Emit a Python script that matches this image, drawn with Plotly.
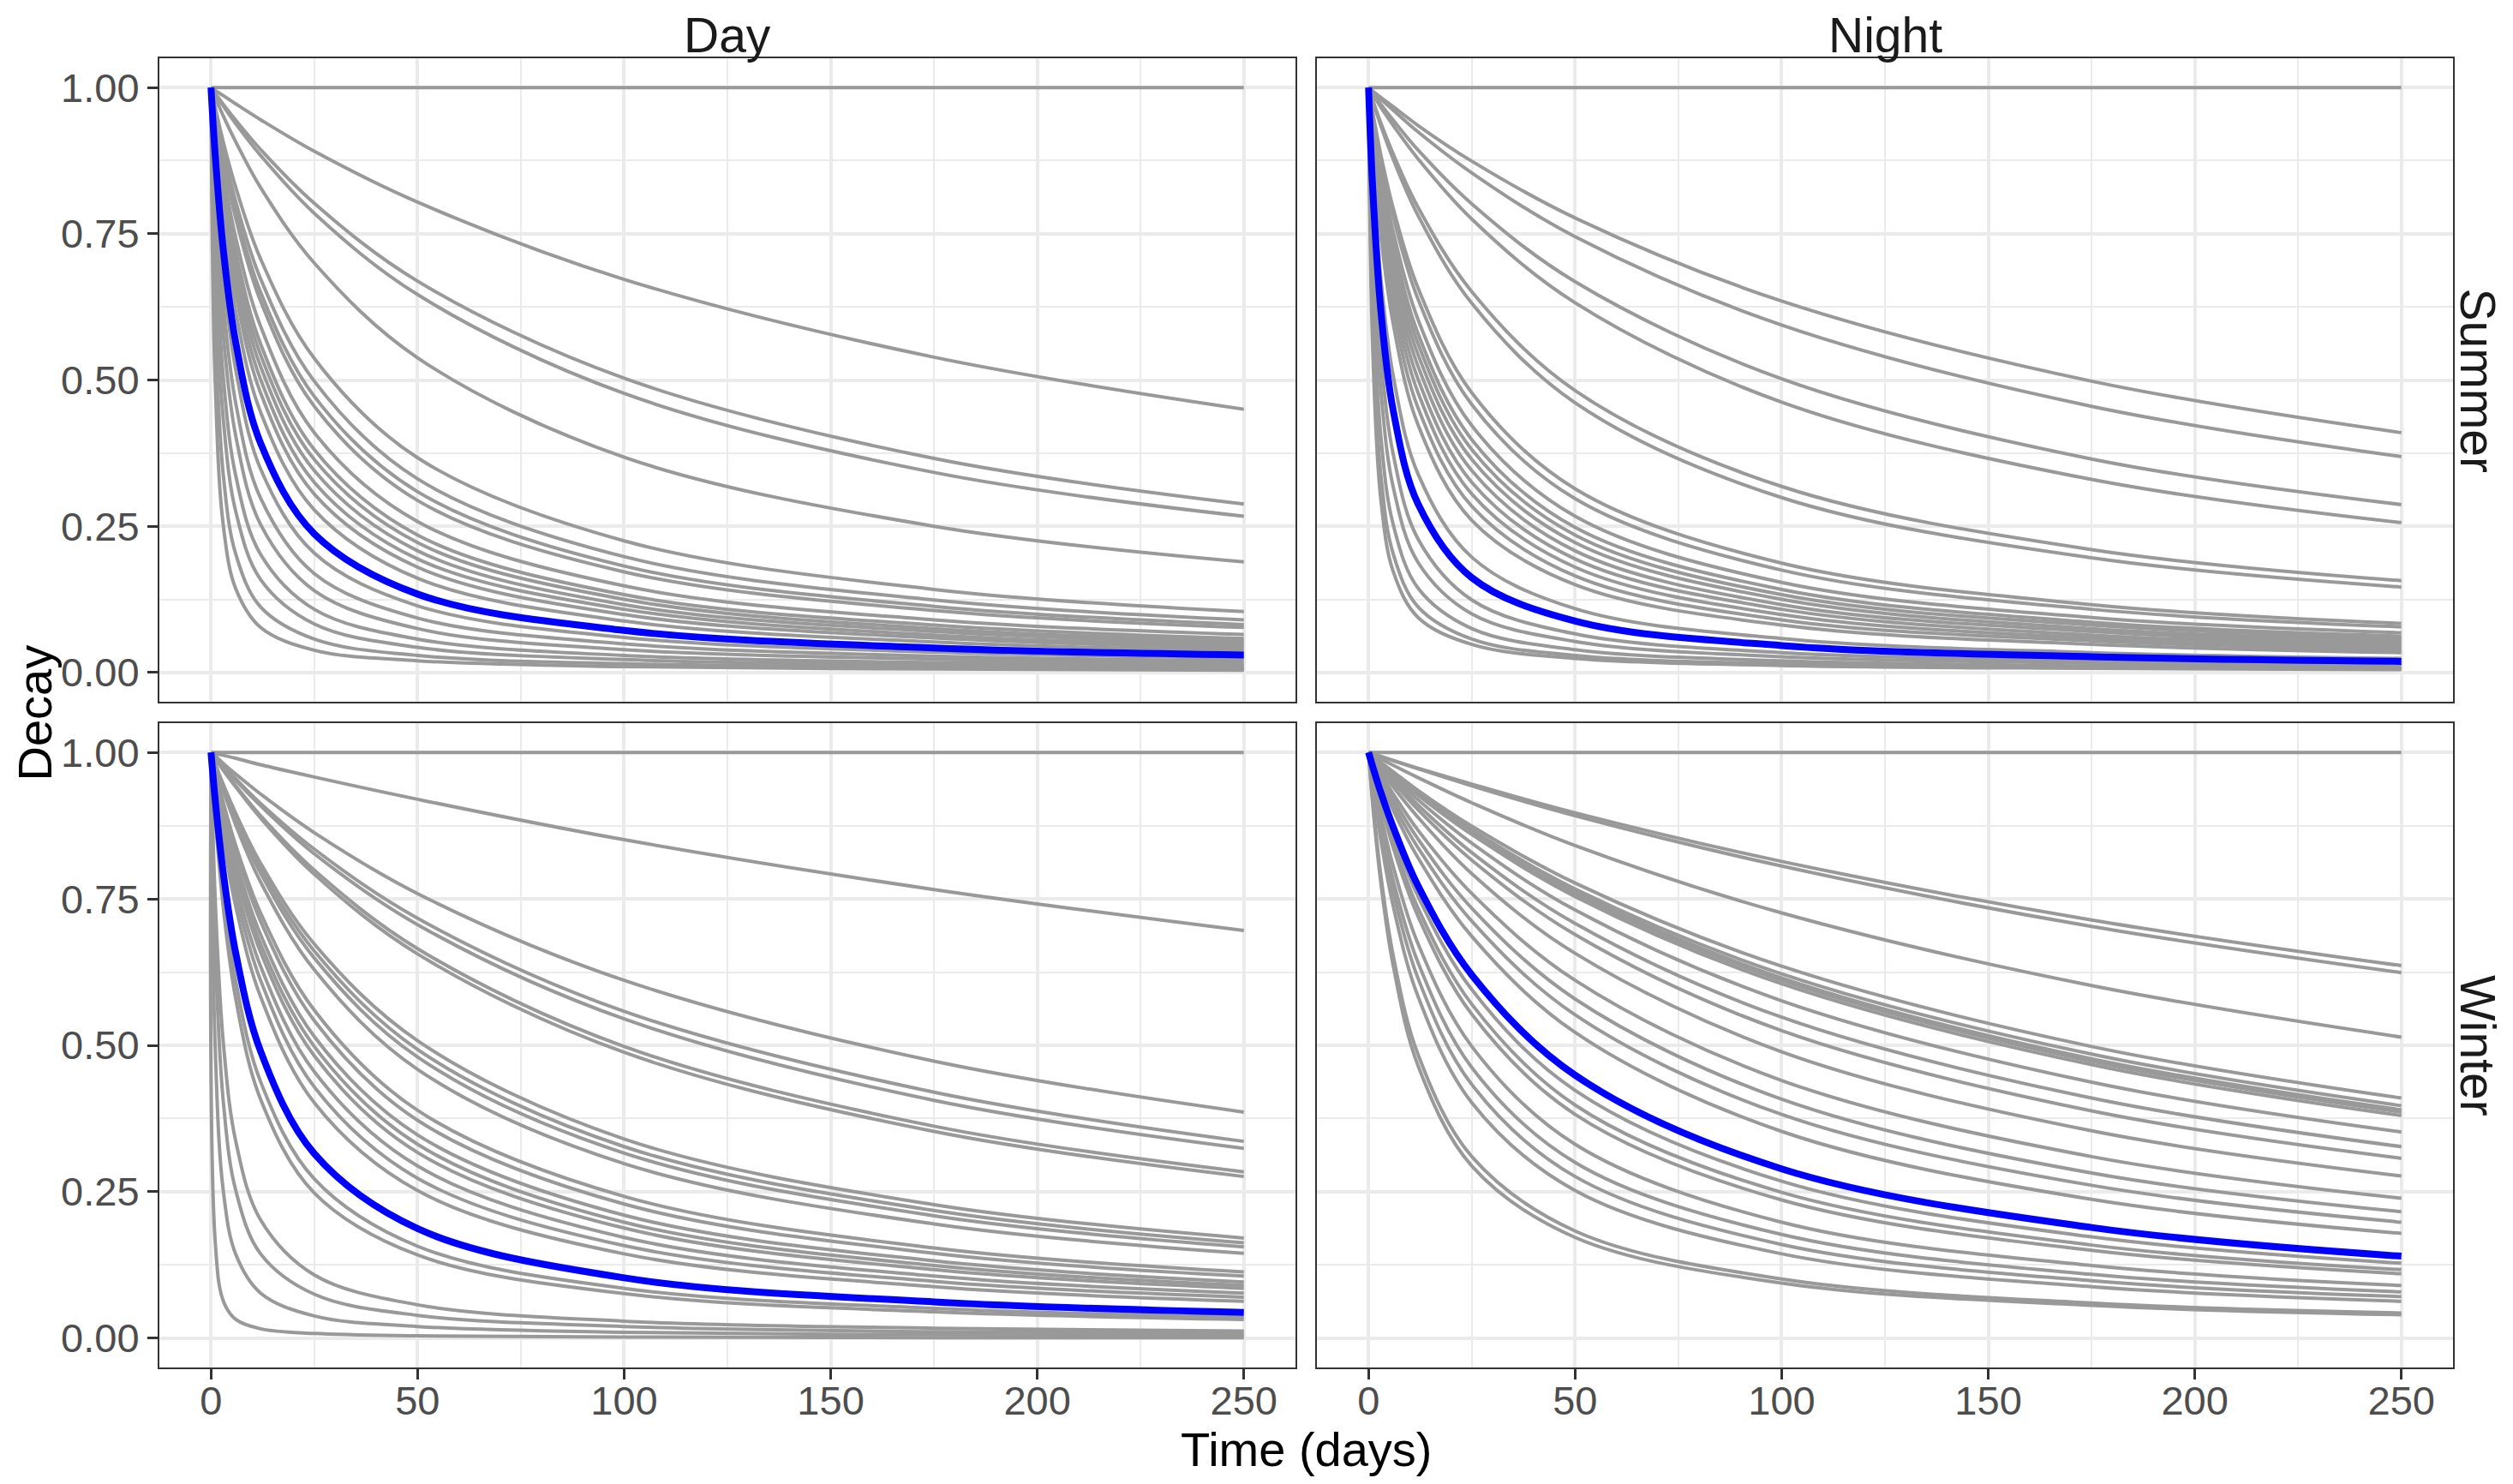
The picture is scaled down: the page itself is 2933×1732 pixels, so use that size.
import plotly.graph_objects as go
from plotly.subplots import make_subplots

T_DAYS = [0, 1, 3, 6, 12, 25, 50, 100, 175, 250]

# ============ SUMMER / DAY ================
summer_day = [
    [1, 1, 1, 1, 1, 1, 1, 1, 1, 1],
    [1, .995, .986, .972, .945, .891, .804, .672, .539, .450],
    [1, .990, .971, .944, .894, .802, .669, .503, .366, .288],
    [1, .989, .968, .938, .884, .785, .646, .477, .342, .267],
    [1, .983, .951, .907, .829, .700, .538, .368, .250, .189],
    [1, .967, .906, .829, .707, .537, .367, .225, .142, .104],
    [1, .961, .892, .805, .673, .498, .331, .198, .124, .090],
    [1, .957, .882, .788, .650, .472, .309, .182, .113, .082],
    [1, .954, .874, .776, .635, .455, .294, .172, .106, .077],
    [1, .946, .853, .743, .592, .410, .258, .148, .090, .065],
    [1, .939, .837, .719, .562, .381, .235, .133, .081, .058],
    [1, .935, .826, .704, .543, .364, .222, .125, .075, .054],
    [1, .929, .814, .687, .523, .345, .208, .116, .070, .050],
    [1, .923, .801, .668, .501, .325, .194, .108, .064, .046],
    [1, .917, .786, .647, .478, .305, .180, .099, .059, .042],
    [1, .906, .762, .616, .445, .278, .161, .088, .052, .037],
    [1, .865, .681, .517, .348, .204, .114, .060, .035, .025],
    [1, .836, .630, .460, .298, .169, .093, .049, .028, .020],
    [1, .803, .575, .404, .253, .140, .075, .039, .023, .016],
    [1, .752, .503, .336, .202, .108, .057, .029, .017, .012],
    [1, .694, .431, .275, .159, .083, .043, .022, .013, .009],
    [1, .602, .336, .202, .112, .057, .029, .015, .009, .006],
    [1, .500, .250, .143, .077, .038, .020, .010, .006, .004],
]
summer_day_mean = [1, .886, .721, .564, .392, .237, .134, .072, .042, .030]

# ============ SUMMER / NIGHT ================
summer_night = [
    [1, 1, 1, 1, 1, 1, 1, 1, 1, 1],
    [1, .994, .983, .967, .935, .874, .777, .635, .498, .410],
    [1, .993, .980, .961, .924, .854, .745, .594, .455, .369],
    [1, .990, .971, .944, .893, .801, .668, .502, .365, .287],
    [1, .989, .966, .935, .878, .775, .632, .462, .330, .256],
    [1, .979, .939, .886, .795, .651, .482, .318, .210, .157],
    [1, .977, .934, .877, .781, .631, .461, .299, .196, .146],
    [1, .958, .884, .793, .657, .478, .314, .187, .116, .084],
    [1, .955, .876, .779, .638, .458, .297, .175, .108, .078],
    [1, .948, .859, .753, .603, .422, .267, .154, .094, .068],
    [1, .943, .846, .734, .579, .398, .248, .142, .086, .062],
    [1, .939, .837, .719, .562, .381, .235, .133, .081, .058],
    [1, .935, .826, .704, .543, .364, .222, .125, .075, .054],
    [1, .929, .814, .687, .523, .345, .208, .116, .070, .050],
    [1, .923, .801, .668, .501, .325, .194, .108, .064, .046],
    [1, .917, .786, .647, .478, .305, .180, .099, .059, .042],
    [1, .908, .767, .623, .452, .284, .165, .090, .054, .038],
    [1, .898, .746, .595, .423, .260, .150, .081, .048, .034],
    [1, .860, .672, .506, .339, .197, .109, .058, .034, .024],
    [1, .780, .542, .372, .228, .124, .066, .034, .020, .014],
    [1, .735, .481, .316, .188, .100, .053, .027, .016, .011],
    [1, .668, .402, .252, .144, .075, .039, .020, .011, .008],
    [1, .602, .336, .202, .112, .057, .029, .015, .009, .006],
    [1, .556, .294, .172, .094, .048, .024, .012, .007, .005],
]
summer_night_mean = [1, .829, .617, .447, .288, .162, .088, .046, .027, .019]

# ============ WINTER / DAY ================
winter_day = [
    [1, 1, 1, 1, 1, 1, 1, 1, 1, 1],
    [1, .998, .995, .990, .979, .958, .920, .851, .766, .696],
    [1, .994, .981, .963, .929, .863, .759, .611, .473, .386],
    [1, .992, .977, .955, .913, .835, .717, .558, .420, .336],
    [1, .992, .976, .952, .909, .827, .706, .545, .406, .324],
    [1, .990, .971, .943, .892, .799, .665, .498, .362, .284],
    [1, .990, .969, .941, .888, .792, .656, .488, .353, .276],
    [1, .981, .945, .896, .811, .673, .508, .340, .228, .171],
    [1, .980, .942, .890, .802, .661, .493, .327, .218, .163],
    [1, .979, .939, .885, .794, .649, .480, .316, .209, .156],
    [1, .977, .934, .876, .779, .629, .459, .298, .195, .145],
    [1, .970, .914, .841, .726, .560, .389, .242, .154, .113],
    [1, .967, .908, .832, .712, .542, .372, .229, .145, .106],
    [1, .964, .898, .816, .689, .515, .347, .210, .132, .096],
    [1, .961, .892, .805, .673, .498, .331, .198, .124, .090],
    [1, .959, .886, .795, .659, .482, .317, .188, .117, .085],
    [1, .954, .874, .776, .635, .455, .294, .172, .106, .077],
    [1, .950, .863, .758, .611, .429, .273, .158, .097, .070],
    [1, .944, .849, .737, .583, .402, .252, .144, .088, .063],
    [1, .903, .757, .609, .438, .272, .157, .085, .051, .036],
    [1, .892, .734, .579, .408, .248, .142, .076, .045, .032],
    [1, .752, .503, .336, .202, .108, .057, .029, .017, .012],
    [1, .668, .402, .252, .144, .075, .039, .020, .011, .008],
    [1, .500, .250, .143, .077, .038, .020, .010, .006, .004],
    [1, .167, .063, .032, .016, .008, .004, .002, .001, .001],
]
winter_day_mean = [1, .920, .793, .657, .490, .315, .187, .103, .062, .044]

# ============ WINTER / NIGHT ================
winter_night = [
    [1, 1, 1, 1, 1, 1, 1, 1, 1, 1],
    [1, .998, .993, .986, .973, .946, .897, .814, .714, .636],
    [1, .998, .993, .986, .972, .943, .892, .806, .703, .624],
    [1, .996, .989, .978, .957, .914, .841, .726, .602, .514],
    [1, .994, .983, .967, .935, .874, .777, .635, .498, .410],
    [1, .994, .982, .965, .932, .868, .767, .622, .485, .397],
    [1, .994, .982, .964, .930, .865, .762, .615, .477, .390],
    [1, .994, .981, .963, .929, .863, .759, .611, .473, .386],
    [1, .994, .981, .962, .927, .860, .754, .605, .467, .380],
    [1, .993, .978, .958, .919, .845, .731, .576, .437, .352],
    [1, .992, .976, .953, .910, .829, .708, .548, .410, .327],
    [1, .991, .974, .949, .902, .816, .689, .525, .388, .307],
    [1, .990, .970, .941, .889, .793, .657, .489, .354, .277],
    [1, .987, .963, .929, .867, .759, .611, .440, .310, .239],
    [1, .986, .958, .920, .852, .734, .579, .408, .282, .216],
    [1, .984, .954, .911, .837, .712, .552, .382, .261, .198],
    [1, .982, .948, .901, .820, .686, .522, .353, .237, .179],
    [1, .973, .924, .859, .754, .595, .423, .268, .173, .128],
    [1, .971, .917, .847, .734, .570, .398, .249, .159, .117],
    [1, .969, .912, .837, .720, .553, .382, .236, .150, .110],
    [1, .961, .892, .805, .673, .498, .331, .198, .124, .090],
    [1, .955, .877, .781, .641, .462, .300, .177, .109, .079],
    [1, .950, .864, .761, .614, .433, .276, .160, .098, .071],
    [1, .944, .849, .737, .583, .402, .252, .144, .088, .063],
    [1, .918, .789, .652, .484, .310, .183, .101, .060, .043],
    [1, .912, .776, .635, .465, .294, .172, .094, .056, .040],
]
winter_night_mean = [1, .976, .931, .872, .772, .620, .449, .289, .189, .140]

X_TICKS = [0, 50, 100, 150, 200, 250]
Y_TICKS = [0, 0.25, 0.5, 0.75, 1.0]
Y_TICKTEXT = ['0.00', '0.25', '0.50', '0.75', '1.00']

FONT = 'Liberation Sans, Arial, Helvetica, sans-serif'
# the page body keeps its default 8px margin, so the figure is 16px smaller
# than the window and every pixel position below is shifted by -8
W, H = 2917, 1716

fig = make_subplots(rows=2, cols=2)

panels = (
    (summer_day, summer_day_mean, 1, 1),
    (summer_night, summer_night_mean, 1, 2),
    (winter_day, winter_day_mean, 2, 1),
    (winter_night, winter_night_mean, 2, 2),
)

# ============ CURVES ================
for curves, mean, r, c in panels:
    for ys in curves:
        fig.add_trace(
            go.Scatter(
                x=T_DAYS, y=ys, mode='lines',
                line=dict(color='#999999', width=4, shape='spline'),
                showlegend=False, hoverinfo='skip'
            ),
            row=r, col=c
        )
    fig.add_trace(
        go.Scatter(
            x=T_DAYS, y=mean, mode='lines',
            line=dict(color='#0000FF', width=8, shape='spline'),
            showlegend=False, name='Mean'
        ),
        row=r, col=c
    )

# ============ AXES ================
x_dom = {1: [178 / W, 1504 / W], 2: [1529 / W, 2855 / W]}
y_dom = {1: [1 - 811 / H, 1 - 60 / H], 2: [1 - 1588 / H, 1 - 836 / H]}

common = dict(
    showline=True, linecolor='#333333', linewidth=2, mirror=True,
    showgrid=True, gridcolor='#EBEBEB', gridwidth=3.5, zeroline=False,
    tickfont=dict(family=FONT, size=47, color='#4D4D4D'),
    tickcolor='#333333', tickwidth=2.5, ticklen=12,
)

for r in (1, 2):
    for c in (1, 2):
        fig.update_xaxes(
            common, domain=x_dom[c], range=[-12.5, 262.5],
            tickvals=X_TICKS, ticklabelstandoff=-15,
            minor=dict(tickvals=[25, 75, 125, 175, 225], showgrid=True,
                       gridcolor='#EBEBEB', gridwidth=1.8),
            ticks='outside' if r == 2 else '',
            showticklabels=(r == 2),
            row=r, col=c
        )
        fig.update_yaxes(
            common, domain=y_dom[r], range=[-0.05, 1.05],
            tickvals=Y_TICKS, ticktext=Y_TICKTEXT,
            minor=dict(tickvals=[0.125, 0.375, 0.625, 0.875], showgrid=True,
                       gridcolor='#EBEBEB', gridwidth=1.8),
            ticks='outside' if c == 1 else '',
            showticklabels=(c == 1),
            row=r, col=c
        )

# ============ STRIPS AND TITLES ================
strip_font = dict(family=FONT, size=57, color='#1A1A1A')
title_font = dict(family=FONT, size=56, color='#000000')
annotations = [
    dict(text='Day', x=sum(x_dom[1]) / 2, y=1, yanchor='top', font=strip_font),
    dict(text='Night', x=sum(x_dom[2]) / 2, y=1, yanchor='top', font=strip_font),
    dict(text='Summer', x=1, xanchor='right', y=sum(y_dom[1]) / 2,
         textangle=90, font=strip_font),
    dict(text='Winter', x=1, xanchor='right', y=sum(y_dom[2]) / 2,
         textangle=90, font=strip_font),
    dict(text='Decay', x=0, xanchor='left', y=1 - 824 / H, textangle=-90, font=title_font),
    dict(text='Time (days)', x=(x_dom[1][0] + x_dom[2][1]) / 2, y=0,
         yanchor='bottom', font=title_font),
]
for a in annotations:
    a.setdefault('xanchor', 'center')
    a.setdefault('yanchor', 'middle')
    a.update(xref='paper', yref='paper', showarrow=False, borderpad=0)

fig.update_layout(
    template='none',
    width=W, height=H,
    margin=dict(l=0, r=0, t=0, b=0),
    paper_bgcolor='white', plot_bgcolor='white',
    font=dict(family=FONT),
    annotations=annotations,
    showlegend=False,
)

fig.write_html("out.html")
